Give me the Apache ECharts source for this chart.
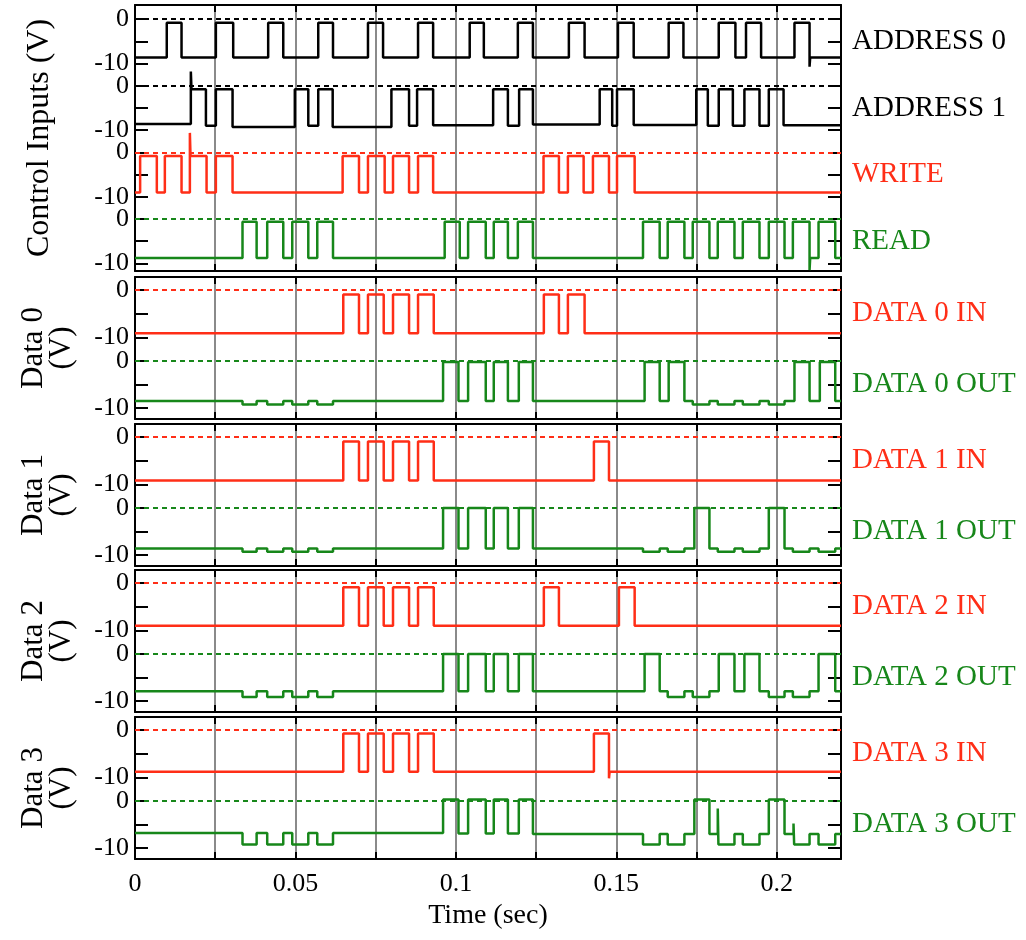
<!DOCTYPE html>
<html>
<head>
<meta charset="utf-8">
<title>Memory control / data waveforms</title>
<script src="https://cdn.jsdelivr.net/npm/echarts@6/dist/echarts.min.js"></script>
<style>
  html, body { margin: 0; padding: 0; background: #ffffff; }
  #main { width: 1026px; height: 940px; }
</style>
</head>
<body>
<div id="main"></div>
<script>
// 时间轴 (sec)
const timeMin = 0;
const timeMax = 0.22;
const timeTickStep = 0.025;
const timeLabels = [0, 0.05, 0.1, 0.15, 0.2];

// 每条波形: [时间 (s), 电压 (V)]，阶梯线的拐点
const address0 = [
  [0, -8.6], [0.0099, -0.8], [0.0145, -8.6], [0.0252, -0.8], [0.0306, -8.6],
  [0.0415, -0.8], [0.0462, -8.6], [0.0571, -0.8], [0.0617, -8.6],
  [0.0726, -0.8], [0.0773, -8.6], [0.0882, -0.8], [0.0929, -8.6],
  [0.1043, -0.8], [0.1087, -8.6], [0.1193, -0.8], [0.1240, -8.6],
  [0.1352, -0.8], [0.1401, -8.6], [0.1505, -0.8], [0.1554, -8.6],
  [0.1663, -0.8], [0.1709, -8.6], [0.1819, -0.8], [0.1871, -8.6],
  [0.1904, -0.8], [0.1951, -8.6], [0.2055, -0.8], [0.2102, -10.7],
  [0.2104, -8.6], [0.22, -8.6]
];
const address1 = [
  [0, -8.6], [0.0174, 3.2], [0.0176, -0.8], [0.0221, -9.0], [0.0252, -0.8], [0.0304, -9.3],
  [0.0498, -0.8], [0.0540, -9.0], [0.0571, -0.8], [0.0616, -9.3],
  [0.0799, -0.8], [0.0854, -9.0], [0.0879, -0.8], [0.0929, -8.9],
  [0.1116, -0.8], [0.1162, -9.0], [0.1197, -0.8], [0.1240, -8.7],
  [0.1448, -0.8], [0.1487, -9.0], [0.1502, -0.8], [0.1554, -8.8],
  [0.1749, -0.8], [0.1785, -9.0], [0.1819, -0.8], [0.1863, -9.0],
  [0.1899, -0.8], [0.1946, -9.0], [0.1975, -0.8], [0.2021, -8.9],
  [0.22, -8.9]
];
const writeLine = [
  [0, -9.0], [0.0016, -0.8], [0.0068, -9.0], [0.0093, -0.8], [0.0145, -9.0],
  [0.0171, 4.4], [0.0173, -0.8], [0.0223, -9.0], [0.0252, -0.8], [0.0304, -9.0],
  [0.0647, -0.8], [0.0698, -9.0], [0.0726, -0.8], [0.0778, -9.0],
  [0.0804, -0.8], [0.0854, -9.0], [0.0882, -0.8], [0.0929, -9.0],
  [0.1273, -0.8], [0.1321, -9.0], [0.1349, -0.8], [0.1398, -9.0],
  [0.1427, -0.8], [0.1477, -9.0], [0.1502, -0.8], [0.1557, -9.0],
  [0.22, -9.0]
];
const readLine = [
  [0, -8.8], [0.0335, -0.6], [0.0379, -8.8], [0.0412, -0.6], [0.0462, -8.8],
  [0.0490, -0.6], [0.0540, -8.8], [0.0568, -0.6], [0.0617, -8.8],
  [0.0965, -0.6], [0.1012, -8.8], [0.1038, -0.6], [0.1093, -8.8],
  [0.1118, -0.6], [0.1162, -8.8], [0.1193, -0.6], [0.1240, -8.8],
  [0.1583, -0.6], [0.1635, -8.8], [0.1660, -0.6], [0.1712, -8.8],
  [0.1738, -0.6], [0.1790, -8.8], [0.1816, -0.6], [0.1868, -8.8],
  [0.1894, -0.6], [0.1946, -8.8], [0.1975, -0.6], [0.2024, -8.8],
  [0.2050, -0.6], [0.2102, -11.5], [0.2104, -8.8], [0.2130, -0.6], [0.2182, -8.8],
  [0.22, -8.8]
];
const data0In = [
  [0, -9.1], [0.0649, -0.9], [0.0698, -9.1], [0.0726, -0.9], [0.0775, -9.1],
  [0.0804, -0.9], [0.0854, -9.1], [0.0882, -0.9], [0.0931, -9.1],
  [0.1274, -0.9], [0.1321, -9.1], [0.1349, -0.9], [0.1401, -9.1],
  [0.22, -9.1]
];
const data0Out = [
  [0, -8.5], [0.0335, -9.2], [0.0379, -8.5], [0.0412, -9.2], [0.0462, -8.5],
  [0.0490, -9.2], [0.0540, -8.5], [0.0568, -9.2], [0.0617, -8.5],
  [0.0960, -0.2], [0.1008, -8.5], [0.1038, -0.2], [0.1093, -8.5],
  [0.1118, -0.2], [0.1162, -8.5], [0.1196, -0.2], [0.1240, -8.5],
  [0.1588, -0.2], [0.1635, -8.5], [0.1663, -0.2], [0.1712, -8.5],
  [0.1738, -9.2], [0.1790, -8.5], [0.1816, -9.2], [0.1868, -8.5],
  [0.1894, -9.2], [0.1946, -8.5], [0.1975, -9.2], [0.2024, -8.5],
  [0.2055, -0.2], [0.2102, -8.5], [0.2134, -0.2], [0.2182, -8.5],
  [0.22, -8.5]
];
const data1In = [
  [0, -9.2], [0.0649, -0.9], [0.0698, -9.2], [0.0726, -0.9], [0.0775, -9.2],
  [0.0804, -0.9], [0.0854, -9.2], [0.0882, -0.9], [0.0931, -9.2],
  [0.1430, -0.9], [0.1477, -9.2], [0.22, -9.2]
];
const data1Out = [
  [0, -8.6], [0.0335, -9.3], [0.0379, -8.6], [0.0412, -9.3], [0.0462, -8.6],
  [0.0490, -9.3], [0.0540, -8.6], [0.0568, -9.3], [0.0617, -8.6],
  [0.0960, 0.0], [0.1008, -8.6], [0.1038, 0.0], [0.1093, -8.6],
  [0.1118, 0.0], [0.1162, -8.6], [0.1196, 0.0], [0.1240, -8.6],
  [0.1583, -9.3], [0.1635, -8.6], [0.1660, -9.3], [0.1712, -8.6],
  [0.1743, 0.0], [0.1790, -8.6], [0.1816, -9.3], [0.1868, -8.6],
  [0.1894, -9.3], [0.1946, -8.6], [0.1975, 0.0], [0.2024, -8.6],
  [0.2050, -9.3], [0.2102, -8.6], [0.2130, -9.3], [0.2182, -8.6],
  [0.22, -8.6]
];
const data2In = [
  [0, -9.0], [0.0649, -0.85], [0.0698, -9.0], [0.0726, -0.85], [0.0775, -9.0],
  [0.0804, -0.85], [0.0854, -9.0], [0.0882, -0.85], [0.0931, -9.0],
  [0.1274, -0.85], [0.1321, -9.0], [0.1508, -0.85], [0.1557, -9.0],
  [0.22, -9.0]
];
const data2Out = [
  [0, -7.9], [0.0335, -9.1], [0.0379, -7.9], [0.0412, -9.1], [0.0462, -7.9],
  [0.0490, -9.1], [0.0540, -7.9], [0.0568, -9.1], [0.0617, -7.9],
  [0.0960, 0.0], [0.1008, -7.9], [0.1038, 0.0], [0.1093, -7.9],
  [0.1118, 0.0], [0.1162, -7.9], [0.1196, 0.0], [0.1240, -7.9],
  [0.1588, 0.0], [0.1635, -7.9], [0.1660, -9.1], [0.1712, -7.9],
  [0.1738, -9.1], [0.1790, -7.9], [0.1819, 0.0], [0.1868, -7.9],
  [0.1899, 0.0], [0.1946, -7.9], [0.1975, -9.1], [0.2024, -7.9],
  [0.2050, -9.1], [0.2102, -7.9], [0.2130, 0.0], [0.2182, -7.9],
  [0.22, -7.9]
];
const data3In = [
  [0, -8.8], [0.0649, -0.7], [0.0698, -8.8], [0.0726, -0.7], [0.0775, -8.8],
  [0.0804, -0.7], [0.0854, -8.8], [0.0882, -0.7], [0.0931, -8.8],
  [0.1430, -0.7], [0.1477, -10.2], [0.1479, -8.8], [0.22, -8.8]
];
const data3Out = [
  [0, -6.8], [0.0335, -9.2], [0.0379, -6.8], [0.0412, -9.2], [0.0462, -6.8],
  [0.0490, -9.2], [0.0540, -6.8], [0.0568, -9.2], [0.0617, -6.8],
  [0.0960, 0.3], [0.1008, -6.9], [0.1038, 0.3], [0.1093, -6.9],
  [0.1118, 0.3], [0.1162, -6.9], [0.1196, 0.3], [0.1240, -7.0],
  [0.1583, -9.2], [0.1635, -7.0], [0.1660, -9.2], [0.1712, -7.0],
  [0.1743, 0.3], [0.1790, -7.0], [0.1816, -1.6], [0.1818, -9.2], [0.1868, -7.0],
  [0.1894, -9.2], [0.1946, -7.0], [0.1975, 0.3], [0.2024, -7.0],
  [0.2052, -4.8], [0.2054, -9.2], [0.2102, -7.0], [0.2130, -9.2], [0.2182, -7.0],
  [0.22, -7.0]
];

// 名称 / 所在面板
const panelTitles = ['Control Inputs (V)', 'Data 0\n(V)', 'Data 1\n(V)', 'Data 2\n(V)', 'Data 3\n(V)'];
const traceNames = ['ADDRESS 0', 'ADDRESS 1', 'WRITE', 'READ',
  'DATA 0 IN', 'DATA 0 OUT', 'DATA 1 IN', 'DATA 1 OUT',
  'DATA 2 IN', 'DATA 2 OUT', 'DATA 3 IN', 'DATA 3 OUT'];
const traceData = [address0, address1, writeLine, readLine,
  data0In, data0Out, data1In, data1Out, data2In, data2Out, data3In, data3Out];
const tracePanel = [0, 0, 0, 0, 1, 1, 2, 2, 3, 3, 4, 4];
const traceSlot = [0, 1, 2, 3, 0, 1, 0, 1, 0, 1, 0, 1];

const BLACK = '#000000';
const RED = '#ff2e17';
const GREEN = '#17871a';
const GRID_GRAY = '#8a8a8a';
const traceColor = [BLACK, BLACK, RED, GREEN, RED, GREEN, RED, GREEN, RED, GREEN, RED, GREEN];

const FONT = '"Liberation Serif", "DejaVu Serif", serif';
const SLOT = 15; // 上下两条波形之间的偏移 (V)

// 面板位置 (px) 与纵轴范围
const panelLayout = [
  { top: 5, height: 266, min: -56.7, max: 3.2, slots: 4 },
  { top: 277, height: 142, min: -27.3, max: 2.8, slots: 2 },
  { top: 424, height: 142, min: -27.3, max: 2.8, slots: 2 },
  { top: 570, height: 142, min: -27.3, max: 2.8, slots: 2 },
  { top: 717, height: 142, min: -27.3, max: 2.8, slots: 2 }
];
const GRID_LEFT = 135;
const GRID_RIGHT = 185;

const chart = echarts.init(document.getElementById('main'), null, { renderer: 'canvas' });

const grid = [];
const xAxis = [];
const yAxis = [];
const series = [];

const axisLineStyle = { show: true, onZero: false, lineStyle: { color: BLACK, width: 2 } };

panelLayout.forEach((p, i) => {
  const isLast = i === panelLayout.length - 1;
  grid.push({ left: GRID_LEFT, right: GRID_RIGHT, top: p.top, height: p.height });

  // 下方时间轴 (带灰色竖线)
  xAxis.push({
    type: 'value', gridIndex: i, position: 'bottom',
    min: timeMin, max: timeMax, interval: timeTickStep,
    axisLine: axisLineStyle,
    axisTick: { show: true, inside: true, length: 7, lineStyle: { color: BLACK, width: 2 } },
    splitLine: { show: true, lineStyle: { color: GRID_GRAY, width: 2 } },
    axisLabel: {
      show: isLast, customValues: timeLabels, margin: 12,
      formatter: v => String(+v.toFixed(3)),
      color: BLACK, fontFamily: FONT, fontSize: 26
    },
    name: isLast ? 'Time (sec)' : '',
    nameLocation: 'middle', nameGap: 43,
    nameTextStyle: { color: BLACK, fontFamily: FONT, fontSize: 28 }
  });
  // 上方刻度
  xAxis.push({
    type: 'value', gridIndex: i, position: 'top',
    min: timeMin, max: timeMax, interval: timeTickStep,
    axisLine: axisLineStyle,
    axisTick: { show: true, inside: true, length: 7, lineStyle: { color: BLACK, width: 2 } },
    splitLine: { show: false },
    axisLabel: { show: false }
  });

  // 纵轴刻度: 每条波形 0 / -5 / -10
  const tickVals = [];
  const labelVals = [];
  for (let s = 0; s < p.slots; s++) {
    tickVals.push(-SLOT * s, -SLOT * s - 5, -SLOT * s - 10);
    labelVals.push(-SLOT * s, -SLOT * s - 10);
  }
  yAxis.push({
    type: 'value', gridIndex: i, position: 'left',
    min: p.min, max: p.max,
    axisLine: axisLineStyle,
    axisTick: { show: true, inside: true, length: 13, customValues: tickVals, lineStyle: { color: BLACK, width: 2 } },
    axisLabel: {
      show: true, customValues: labelVals, margin: 6,
      formatter: v => (Math.round(-v) % SLOT === 0 ? '0' : '-10'),
      color: BLACK, fontFamily: FONT, fontSize: 26
    },
    splitLine: { show: false }
  });
  yAxis.push({
    type: 'value', gridIndex: i, position: 'right',
    min: p.min, max: p.max,
    axisLine: axisLineStyle,
    axisTick: { show: true, inside: true, length: 13, customValues: tickVals, lineStyle: { color: BLACK, width: 2 } },
    axisLabel: { show: false },
    splitLine: { show: false }
  });
});

traceData.forEach((points, k) => {
  const p = tracePanel[k];
  const off = SLOT * traceSlot[k];
  const color = traceColor[k];
  series.push({
    name: traceNames[k],
    type: 'line',
    xAxisIndex: 2 * p,
    yAxisIndex: 2 * p,
    step: 'end',
    showSymbol: false,
    symbol: 'none',
    silent: true,
    z: 3,
    lineStyle: { color: color, width: 2.5 },
    itemStyle: { color: color },
    data: points.map(([t, v]) => [t, v - off]),
    // 0 V 虚线
    markLine: {
      silent: true,
      symbol: 'none',
      label: { show: false },
      lineStyle: { color: color, width: 2, type: [5, 4] },
      data: [{ yAxis: -off }]
    }
  });
});

chart.setOption({
  animation: false,
  backgroundColor: '#ffffff',
  grid: grid,
  xAxis: xAxis,
  yAxis: yAxis,
  series: series
});

// 右侧名称 & 左侧面板标题
const graphics = [];
traceNames.forEach((name, k) => {
  const p = tracePanel[k];
  const pos = chart.convertToPixel({ xAxisIndex: 2 * p, yAxisIndex: 2 * p },
    [timeMax, -5 - SLOT * traceSlot[k]]);
  graphics.push({
    type: 'text', x: pos[0] + 11, y: pos[1],
    style: {
      text: name, fill: traceColor[k], font: '29px ' + FONT,
      align: 'left', verticalAlign: 'middle'
    }
  });
});
panelTitles.forEach((title, i) => {
  const p = panelLayout[i];
  graphics.push({
    type: 'text', x: i === 0 ? 40 : 48, y: p.top + p.height / 2,
    rotation: Math.PI / 2,
    style: {
      text: title, fill: BLACK, font: (i === 0 ? '32px ' : '31px ') + FONT, lineHeight: 28,
      align: 'center', verticalAlign: 'middle'
    }
  });
});
chart.setOption({ graphic: graphics });
</script>
</body>
</html>
